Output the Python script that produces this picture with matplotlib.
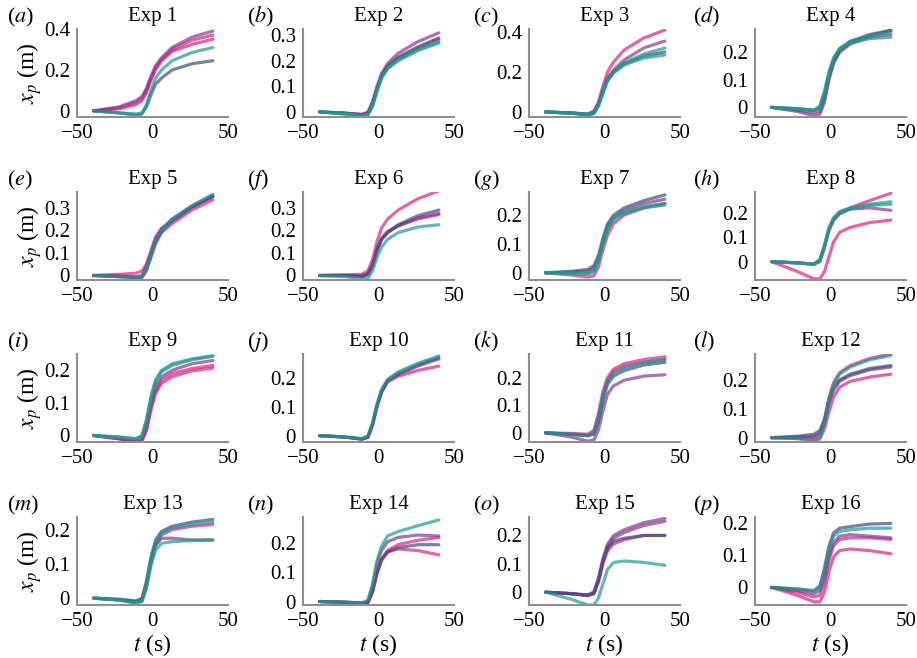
"""Particle position x_p versus time for the 16 experiments."""

from matplotlib import pyplot

t = [-39, -22, -11, -7, -4, -1, 2, 6, 13, 26, 40]

# Track colours: M magenta, P purple, B dark blue, G teal
palette = {'M': '#d42580', 'P': '#833a8e', 'B': '#3e4d80', 'G': '#1f9a8c'}

exp1_c = ['M', 'M', 'P', 'B', 'G']
exp1_x = [[0, 0.015, 0.04, 0.06, 0.10, 0.16, 0.21, 0.25, 0.30, 0.345, 0.37],
          [0, 0.01, 0.03, 0.05, 0.09, 0.15, 0.20, 0.245, 0.29, 0.325, 0.35],
          [0, 0.02, 0.05, 0.07, 0.11, 0.17, 0.22, 0.26, 0.31, 0.36, 0.39],
          [0, -0.01, -0.02, -0.015, 0.02, 0.08, 0.13, 0.16, 0.20, 0.23, 0.245],
          [0, -0.01, -0.015, -0.01, 0.03, 0.10, 0.16, 0.20, 0.245, 0.285, 0.31]]

exp2_c = ['P', 'M', 'B', 'G', 'G']
exp2_x = [[0, -0.005, -0.01, 0, 0.04, 0.10, 0.15, 0.19, 0.23, 0.275, 0.31],
          [0, -0.005, -0.01, -0.005, 0.03, 0.09, 0.14, 0.175, 0.21, 0.25, 0.285],
          [0, -0.005, -0.012, -0.005, 0.03, 0.09, 0.14, 0.18, 0.215, 0.255, 0.29],
          [0, -0.008, -0.015, -0.01, 0.025, 0.085, 0.135, 0.17, 0.205, 0.245, 0.275],
          [0, -0.008, -0.015, -0.012, 0.02, 0.08, 0.13, 0.17, 0.20, 0.24, 0.27]]

exp3_c = ['M', 'P', 'B', 'G', 'G']
exp3_x = [[0, -0.005, -0.01, 0.005, 0.05, 0.13, 0.20, 0.25, 0.31, 0.37, 0.41],
          [0, -0.005, -0.01, 0, 0.04, 0.11, 0.17, 0.21, 0.26, 0.32, 0.355],
          [0, -0.005, -0.015, -0.005, 0.035, 0.10, 0.16, 0.20, 0.24, 0.28, 0.30],
          [0, -0.005, -0.012, -0.005, 0.035, 0.10, 0.16, 0.20, 0.245, 0.29, 0.32],
          [0, -0.006, -0.015, -0.008, 0.03, 0.095, 0.155, 0.195, 0.235, 0.27, 0.285]]

exp4_c = ['P', 'P', 'B', 'G', 'G']
exp4_x = [[0, -0.015, -0.03, -0.025, 0.02, 0.10, 0.16, 0.20, 0.23, 0.255, 0.265],
          [0, -0.01, -0.02, -0.015, 0.03, 0.11, 0.165, 0.205, 0.235, 0.26, 0.28],
          [0, -0.005, -0.01, 0, 0.05, 0.12, 0.17, 0.21, 0.24, 0.265, 0.28],
          [0, -0.005, -0.01, 0.005, 0.06, 0.13, 0.18, 0.215, 0.24, 0.26, 0.275],
          [0, -0.005, -0.012, -0.005, 0.045, 0.12, 0.175, 0.21, 0.235, 0.25, 0.255]]

exp5_c = ['M', 'M', 'P', 'B', 'G']
exp5_x = [[0, 0.005, 0.01, 0.02, 0.05, 0.11, 0.17, 0.21, 0.24, 0.30, 0.35],
          [0, 0.0, -0.01, -0.01, 0.02, 0.08, 0.14, 0.19, 0.23, 0.29, 0.335],
          [0, -0.005, -0.005, 0, 0.04, 0.10, 0.16, 0.205, 0.25, 0.305, 0.35],
          [0, -0.005, -0.01, -0.005, 0.03, 0.09, 0.15, 0.195, 0.245, 0.305, 0.355],
          [0, -0.005, -0.01, -0.005, 0.03, 0.09, 0.15, 0.20, 0.25, 0.31, 0.36]]

exp6_c = ['M', 'M', 'P', 'B', 'G']
exp6_x = [[0, 0.003, 0.005, 0.02, 0.07, 0.15, 0.21, 0.25, 0.29, 0.34, 0.375],
          [0, 0, 0, 0.01, 0.05, 0.12, 0.165, 0.195, 0.22, 0.25, 0.27],
          [0, 0, -0.005, 0.005, 0.04, 0.11, 0.16, 0.19, 0.22, 0.255, 0.275],
          [0, 0, -0.005, 0.005, 0.04, 0.11, 0.16, 0.19, 0.225, 0.265, 0.29],
          [0, -0.005, -0.015, -0.012, 0.02, 0.08, 0.125, 0.16, 0.19, 0.215, 0.225]]

exp7_c = ['M', 'P', 'B', 'G', 'G']
exp7_x = [[0, -0.008, -0.015, -0.01, 0.02, 0.08, 0.13, 0.17, 0.20, 0.225, 0.24],
          [0, 0.002, 0.005, 0.015, 0.05, 0.11, 0.16, 0.19, 0.215, 0.24, 0.255],
          [0, 0.005, 0.012, 0.025, 0.06, 0.12, 0.17, 0.20, 0.225, 0.25, 0.27],
          [0, -0.002, -0.005, 0.005, 0.04, 0.10, 0.15, 0.185, 0.205, 0.225, 0.235],
          [0, 0, -0.002, 0.008, 0.045, 0.105, 0.155, 0.19, 0.21, 0.23, 0.24]]

exp8_c = ['M', 'M', 'P', 'G', 'G']
exp8_x = [[0, -0.04, -0.07, -0.07, -0.04, 0.02, 0.08, 0.12, 0.14, 0.16, 0.17],
          [0, -0.005, -0.01, 0.0, 0.06, 0.13, 0.17, 0.20, 0.22, 0.25, 0.28],
          [0, -0.005, -0.01, 0.005, 0.06, 0.13, 0.17, 0.195, 0.215, 0.22, 0.21],
          [0, -0.005, -0.01, 0.01, 0.07, 0.14, 0.18, 0.205, 0.22, 0.235, 0.245],
          [0, -0.005, -0.012, 0.005, 0.06, 0.13, 0.175, 0.20, 0.215, 0.23, 0.235]]

exp9_c = ['M', 'M', 'P', 'G', 'G']
exp9_x = [[0, -0.01, -0.02, -0.015, 0.02, 0.085, 0.135, 0.17, 0.19, 0.205, 0.215],
          [0, -0.01, -0.02, -0.018, 0.015, 0.08, 0.13, 0.16, 0.18, 0.198, 0.207],
          [0, -0.01, -0.015, -0.01, 0.03, 0.10, 0.15, 0.18, 0.20, 0.22, 0.23],
          [0, -0.005, -0.01, 0, 0.05, 0.12, 0.17, 0.20, 0.22, 0.235, 0.245],
          [0, -0.005, -0.01, -0.002, 0.045, 0.115, 0.165, 0.195, 0.215, 0.232, 0.243]]

exp10_c = ['M', 'P', 'B', 'G']
exp10_x = [[0, -0.005, -0.012, -0.006, 0.035, 0.10, 0.15, 0.185, 0.205, 0.225, 0.24],
           [0, -0.005, -0.012, -0.005, 0.035, 0.10, 0.15, 0.19, 0.21, 0.24, 0.265],
           [0, -0.005, -0.012, -0.005, 0.04, 0.105, 0.155, 0.19, 0.215, 0.245, 0.27],
           [0, -0.005, -0.01, 0, 0.045, 0.11, 0.16, 0.195, 0.22, 0.25, 0.275]]

exp11_c = ['M', 'M', 'P', 'B', 'G']
exp11_x = [[0, -0.002, -0.005, 0.01, 0.07, 0.15, 0.20, 0.23, 0.25, 0.265, 0.275],
           [0, -0.005, -0.01, 0, 0.055, 0.135, 0.19, 0.22, 0.24, 0.255, 0.265],
           [0, -0.015, -0.03, -0.025, 0.01, 0.08, 0.14, 0.17, 0.19, 0.205, 0.21],
           [0, -0.005, -0.01, -0.005, 0.04, 0.12, 0.175, 0.205, 0.225, 0.245, 0.255],
           [0, -0.005, -0.01, 0, 0.05, 0.13, 0.185, 0.215, 0.235, 0.255, 0.265]]

exp12_c = ['M', 'M', 'P', 'B', 'G']
exp12_x = [[0, 0.002, 0.005, 0.015, 0.06, 0.14, 0.19, 0.225, 0.25, 0.275, 0.29],
           [0, -0.003, -0.008, -0.005, 0.03, 0.09, 0.14, 0.175, 0.195, 0.21, 0.22],
           [0, 0, 0, 0.01, 0.05, 0.12, 0.165, 0.195, 0.215, 0.235, 0.245],
           [0, 0.005, 0.012, 0.025, 0.065, 0.13, 0.175, 0.20, 0.22, 0.24, 0.25],
           [0, -0.003, -0.008, 0, 0.05, 0.13, 0.185, 0.22, 0.245, 0.27, 0.285]]

exp13_c = ['M', 'P', 'B', 'G', 'G']
exp13_x = [[0, -0.005, -0.012, -0.008, 0.035, 0.105, 0.155, 0.185, 0.20, 0.21, 0.215],
           [0, -0.005, -0.01, -0.005, 0.04, 0.11, 0.155, 0.175, 0.175, 0.17, 0.17],
           [0, -0.003, -0.008, 0, 0.05, 0.12, 0.17, 0.195, 0.21, 0.222, 0.23],
           [0, -0.006, -0.015, -0.01, 0.03, 0.095, 0.14, 0.16, 0.165, 0.168, 0.17],
           [0, -0.005, -0.012, -0.006, 0.04, 0.11, 0.16, 0.19, 0.205, 0.215, 0.222]]

exp14_c = ['M', 'M', 'P', 'B', 'G']
exp14_x = [[0, -0.003, -0.007, -0.003, 0.035, 0.10, 0.145, 0.175, 0.195, 0.21, 0.22],
           [0, -0.003, -0.007, -0.003, 0.03, 0.095, 0.14, 0.17, 0.18, 0.175, 0.16],
           [0, -0.002, -0.005, 0, 0.05, 0.13, 0.175, 0.205, 0.22, 0.228, 0.225],
           [0, -0.003, -0.007, -0.003, 0.035, 0.10, 0.145, 0.17, 0.185, 0.195, 0.195],
           [0, -0.002, -0.005, 0.005, 0.06, 0.14, 0.19, 0.225, 0.24, 0.26, 0.28]]

exp15_c = ['M', 'P', 'P', 'B', 'G']
exp15_x = [[0, -0.005, -0.012, -0.005, 0.035, 0.10, 0.145, 0.17, 0.185, 0.20, 0.20],
           [0, -0.005, -0.01, 0, 0.05, 0.12, 0.17, 0.20, 0.22, 0.245, 0.26],
           [0, -0.005, -0.012, -0.005, 0.04, 0.11, 0.16, 0.19, 0.21, 0.235, 0.25],
           [0, -0.005, -0.01, 0, 0.045, 0.11, 0.155, 0.18, 0.19, 0.20, 0.20],
           [0, -0.025, -0.045, -0.045, -0.02, 0.03, 0.08, 0.105, 0.11, 0.105, 0.095]]

exp16_c = ['M', 'M', 'P', 'B', 'G']
exp16_x = [[0, -0.015, -0.03, -0.025, 0.015, 0.085, 0.13, 0.15, 0.155, 0.155, 0.15],
           [0, -0.025, -0.045, -0.045, -0.015, 0.05, 0.095, 0.115, 0.12, 0.115, 0.105],
           [0, -0.01, -0.02, -0.01, 0.035, 0.10, 0.14, 0.16, 0.165, 0.16, 0.155],
           [0, -0.005, -0.01, 0.005, 0.06, 0.13, 0.17, 0.185, 0.19, 0.198, 0.20],
           [0, -0.005, -0.012, 0, 0.055, 0.12, 0.16, 0.175, 0.18, 0.185, 0.185]]

ylims = [(-0.03, 0.40), (-0.02, 0.325), (-0.025, 0.415), (-0.035, 0.285),
         (-0.02, 0.37), (-0.02, 0.37), (-0.025, 0.28), (-0.075, 0.285),
         (-0.02, 0.25), (-0.022, 0.282), (-0.033, 0.285), (-0.015, 0.29),
         (-0.02, 0.237), (-0.012, 0.29), (-0.045, 0.265), (-0.055, 0.22)]
yticks = [[0, 0.2, 0.4], [0, 0.1, 0.2, 0.3], [0, 0.2, 0.4], [0, 0.1, 0.2],
          [0, 0.1, 0.2, 0.3], [0, 0.1, 0.2, 0.3], [0, 0.1, 0.2], [0, 0.1, 0.2],
          [0, 0.1, 0.2], [0, 0.1, 0.2], [0, 0.1, 0.2], [0, 0.1, 0.2],
          [0, 0.1, 0.2], [0, 0.1, 0.2], [0, 0.1, 0.2], [0, 0.1, 0.2]]
letters = 'abcdefghijklmnop'

colors = [exp1_c, exp2_c, exp3_c, exp4_c, exp5_c, exp6_c, exp7_c, exp8_c,
          exp9_c, exp10_c, exp11_c, exp12_c, exp13_c, exp14_c, exp15_c, exp16_c]
tracks = [exp1_x, exp2_x, exp3_x, exp4_x, exp5_x, exp6_x, exp7_x, exp8_x,
          exp9_x, exp10_x, exp11_x, exp12_x, exp13_x, exp14_x, exp15_x, exp16_x]

pyplot.rc('font', family='Liberation Serif', size=15)
pyplot.rc('mathtext', fontset='stix')

W, H = 917, 658
fig = pyplot.figure(figsize=(W / 100, H / 100), dpi=100)

col_left = [77, 303, 529, 755]      # pixels
row_bottom = [117, 280, 442, 605]   # pixels from top
letter_x = [7, 247, 473, 693]
ax_w, ax_h = 151, 88

for i in range(16):
    r, c = divmod(i, 4)
    ax = fig.add_axes([col_left[c] / W, 1 - row_bottom[r] / H,
                       ax_w / W, ax_h / H])
    for key, xp in zip(colors[i], tracks[i]):
        ax.plot(t, xp, color=palette[key], linewidth=2.3, alpha=0.7,
                solid_capstyle='round')
    ax.set_xlim(-50, 50)
    ax.set_ylim(*ylims[i])
    ax.set_xticks([-50, 0, 50])
    ax.set_yticks(yticks[i])
    ax.set_yticklabels(['0' if v == 0 else f'{v:g}' for v in yticks[i]])
    ax.tick_params(length=0, pad=5)
    for side in ('top', 'right'):
        ax.spines[side].set_visible(False)
    for side in ('left', 'bottom'):
        ax.spines[side].set_color('#8f8f8f')
        ax.spines[side].set_linewidth(1.5)
    ax.text(0.5, 1 + 12 / ax_h, f'Exp {i + 1}', transform=ax.transAxes,
            ha='center', va='center')
    top_px = row_bottom[r] - ax_h
    fig.text(letter_x[c] / W, 1 - (top_px - 12) / H,
             f'($\\mathit{{{letters[i]}}}$)', ha='left', va='center',
             fontsize=16)
    if c == 0:
        fig.text(30 / W, 1 - (row_bottom[r] - ax_h / 2) / H,
                 '$x_p$ (m)', rotation=90, ha='center', va='center',
                 fontsize=17)
    if r == 3:
        fig.text((col_left[c] + ax_w / 2) / W, 1 - 645 / H,
                 '$t$ (s)', ha='center', va='center', fontsize=17)

fig.savefig('out.png', dpi=100)
